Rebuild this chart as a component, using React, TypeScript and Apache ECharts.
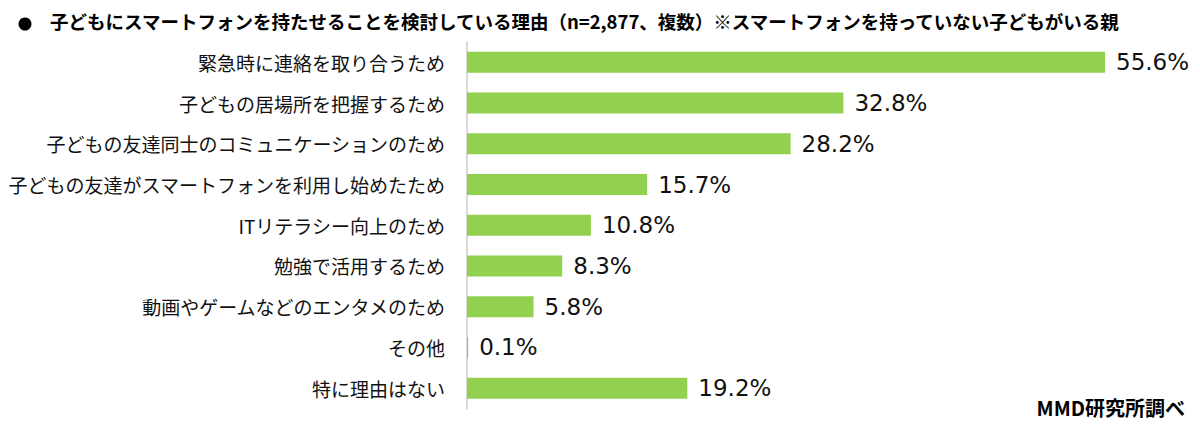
import React, { useEffect, useRef } from "react";
import * as echarts from "echarts";

const titleText =
  "子どもにスマートフォンを持たせることを検討している理由（n=2,877、複数）※スマートフォンを持っていない子どもがいる親";
const sourceText = "MMD研究所調べ";

const categories = [
  "緊急時に連絡を取り合うため",
  "子どもの居場所を把握するため",
  "子どもの友達同士のコミュニケーションのため",
  "子どもの友達がスマートフォンを利用し始めたため",
  "ITリテラシー向上のため",
  "勉強で活用するため",
  "動画やゲームなどのエンタメのため",
  "その他",
  "特に理由はない",
];

const values = [55.6, 32.8, 28.2, 15.7, 10.8, 8.3, 5.8, 0.1, 19.2];

export default function App() {
  const ref = useRef<HTMLDivElement>(null);

  useEffect(() => {
    if (!ref.current) return;
    const chart = echarts.init(ref.current, undefined, { renderer: "svg" });
    chart.setOption({
      animation: false,
      backgroundColor: "#ffffff",
      graphic: [
        {
          type: "circle",
          shape: { cx: 25, cy: 24, r: 6.5 },
          style: { fill: "#000000" },
        },
        {
          type: "text",
          left: 50,
          top: 12,
          style: {
            text: titleText,
            font: "bold 18.5px 'Noto Sans CJK JP', sans-serif",
            fill: "#000000",
          },
        },
        {
          type: "text",
          right: 15,
          top: 397,
          style: {
            text: sourceText,
            font: "bold 20px 'Noto Sans CJK JP', sans-serif",
            fill: "#000000",
          },
        },
      ],
      grid: {
        left: 467,
        right: 44.5,
        top: 42,
        bottom: 24.5,
        containLabel: false,
      },
      xAxis: {
        type: "value",
        min: 0,
        max: 60,
        show: false,
      },
      yAxis: {
        type: "category",
        data: categories,
        inverse: true,
        axisLine: { show: true, lineStyle: { color: "#d9d9d9", width: 2 } },
        axisTick: { show: false },
        axisLabel: {
          margin: 22,
          color: "#111111",
          fontSize: 19,
          fontFamily: "'Noto Sans CJK JP', sans-serif",
        },
      },
      series: [
        {
          type: "bar",
          data: values,
          barWidth: 21,
          itemStyle: { color: "#92d050" },
          label: {
            show: true,
            position: "right",
            distance: 11,
            formatter: (p: any) => `${p.value.toFixed(1)}%`,
            color: "#111111",
            fontSize: 23,
            fontFamily: "'DejaVu Sans', Verdana, sans-serif",
          },
        },
      ],
    });
    return () => chart.dispose();
  }, []);

  return (
    <div
      ref={ref}
      style={{ position: "absolute", left: 0, top: 0, width: 1200, height: 433 }}
    />
  );
}
